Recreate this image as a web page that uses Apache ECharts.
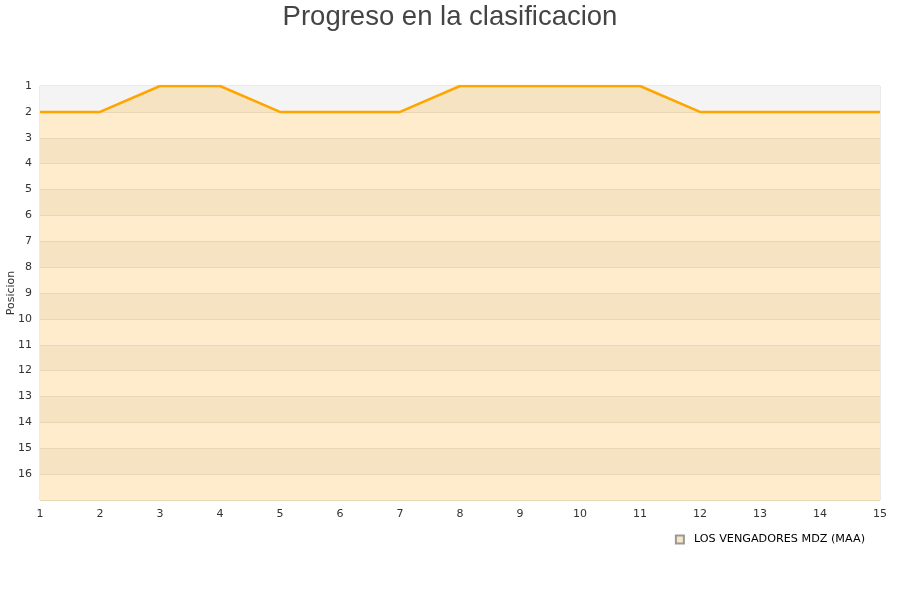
<!DOCTYPE html>
<html><head><meta charset="utf-8">
<script src="https://cdn.jsdelivr.net/npm/echarts@6/dist/echarts.min.js"></script>
<style>html,body{margin:0;padding:0;background:#fff}#c{width:900px;height:600px}</style>
</head><body><div id="c"></div>
<script>
var titleText = 'Progreso en la clasificacion';
var seriesName = 'LOS VENGADORES MDZ (MAA)';
var jornadas = [1,2,3,4,5,6,7,8,9,10,11,12,13,14,15];
var posiciones = [2,2,1,1,2,2,2,1,1,1,1,2,2,2,2];
var data = jornadas.map(function(j,i){return [j, posiciones[i]];});
var chart = echarts.init(document.getElementById('c'));
chart.setOption({
  animation:false,
  title:{text:titleText,left:'center',top:-2,textStyle:{fontFamily:'Liberation Sans',fontSize:27.5,fontWeight:'normal',color:'#444'}},
  grid:{left:40,right:20,top:86,bottom:100,show:true,borderColor:'#d4d4d4',borderWidth:1,backgroundColor:'transparent',
    containLabel:false,outerBoundsMode:'none'},
  legend:{data:[{name:seriesName,icon:'rect'}],right:30,top:529,itemWidth:8,itemHeight:8,itemGap:5,
    textStyle:{fontFamily:'DejaVu Sans',fontSize:11.2,color:'#000',padding:[0,0,0,5]}},
  xAxis:{type:'value',min:1,max:15,interval:1,
    axisLine:{show:false},axisTick:{show:false},splitLine:{show:false},
    axisLabel:{fontFamily:'DejaVu Sans',fontSize:11,color:'#333',margin:9}},
  yAxis:{type:'value',inverse:true,min:1,max:17,interval:1,name:'Posicion',nameLocation:'middle',nameGap:23,
    nameMoveOverlap:false,
    nameTextStyle:{fontFamily:'DejaVu Sans',fontSize:11,color:'#333'},
    axisLine:{show:false},axisTick:{show:false},
    axisLabel:{fontFamily:'DejaVu Sans',fontSize:11,color:'#333',margin:8,showMaxLabel:false},
    splitLine:{show:true,lineStyle:{color:'#e8d6b4',width:1}},
    splitArea:{show:true,areaStyle:{color:['#f5e3c2','#ffeccc']}}},
  series:[{name:seriesName,type:'line',data:data,symbol:'none',clip:true,
    lineStyle:{color:'#ffa500',width:2.5},
    itemStyle:{color:'#fbe6c4',borderColor:'#999',borderWidth:1},
    areaStyle:{color:'#f4f4f4',opacity:1,origin:'start'}}]
});
</script></body></html>
